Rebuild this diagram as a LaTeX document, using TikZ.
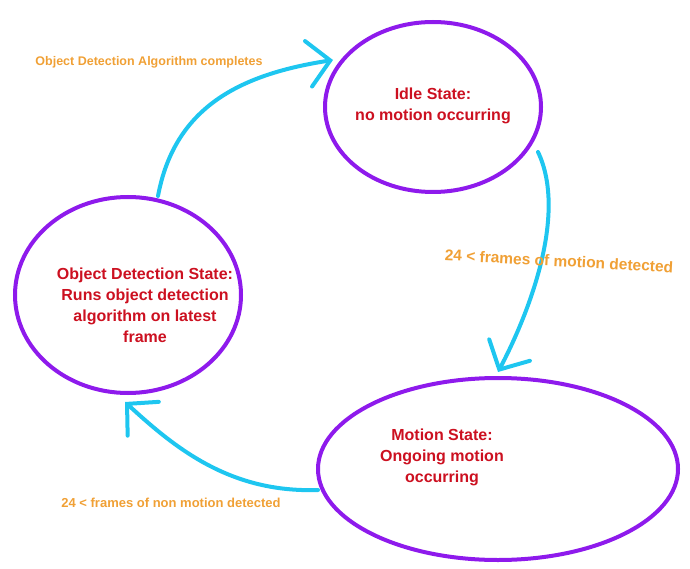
\documentclass[tikz,border=0pt]{standalone}
\usepackage{fontspec}
\setmainfont{Liberation Sans}
\usetikzlibrary{shapes.geometric,arrows.meta}
\definecolor{statepurple}{HTML}{8E1AEC}
\definecolor{arrowcyan}{HTML}{1EC6F0}
\definecolor{labelorange}{HTML}{F0A035}
\definecolor{statered}{HTML}{CC1020}
\tikzset{
  statebox/.style={ellipse, draw=statepurple, line width=4pt, inner sep=0pt},
  statetext/.style={text=statered, font=\bfseries\fontsize{16}{21}\selectfont, align=center},
  conn/.style={draw=arrowcyan, line width=4pt, line cap=round, -{Straight Barb[length=22pt,width=46pt,line cap=round]}},
  edgelabel/.style={text=labelorange, font=\bfseries, inner sep=0pt}
}
\begin{document}
\begin{tikzpicture}[x=1pt,y=-1pt]
\useasboundingbox (0,0) rectangle (690,569);
\node[statebox, minimum width=216pt, minimum height=170pt] (idle) at (433,107) {};
\node[statebox, minimum width=226pt, minimum height=196pt] (od) at (128,295) {};
\node[statebox, minimum width=360pt, minimum height=182pt] (motion) at (498,469) {};
\node[statetext] (idlet) at (433,106) {Idle State:\\no motion occurring};
\node[statetext] (odt) at (145,305) {Object Detection State:\\Runs object detection\\algorithm on latest\\frame};
\node[statetext] (motiont) at (442,457) {Motion State:\\Ongoing motion\\occurring};
\coordinate (a1s) at (158,196);
\coordinate (a1e) at (333,60);
\coordinate (a2s) at (538,152);
\coordinate (a2e) at (498,372);
\coordinate (a3s) at (318,490);
\coordinate (a3e) at (125,402);
\draw[conn] (a1s) .. controls (175,105) and (243,74) .. (a1e);
\draw[conn] (a2s) .. controls (568,215) and (528,315) .. (a2e);
\draw[conn] (a3s) .. controls (230,493) and (175,448) .. (a3e);
\node[edgelabel, font=\bfseries\fontsize{12.5}{14}\selectfont] (l1) at (149,62) {Object Detection Algorithm completes};
\node[edgelabel, font=\bfseries\fontsize{15.5}{18}\selectfont, rotate=-3] (l2) at (559,261) {24 < frames of motion detected};
\node[edgelabel, font=\bfseries\fontsize{13}{15}\selectfont] (l3) at (171,503) {24 < frames of non motion detected};
\end{tikzpicture}
\end{document}
